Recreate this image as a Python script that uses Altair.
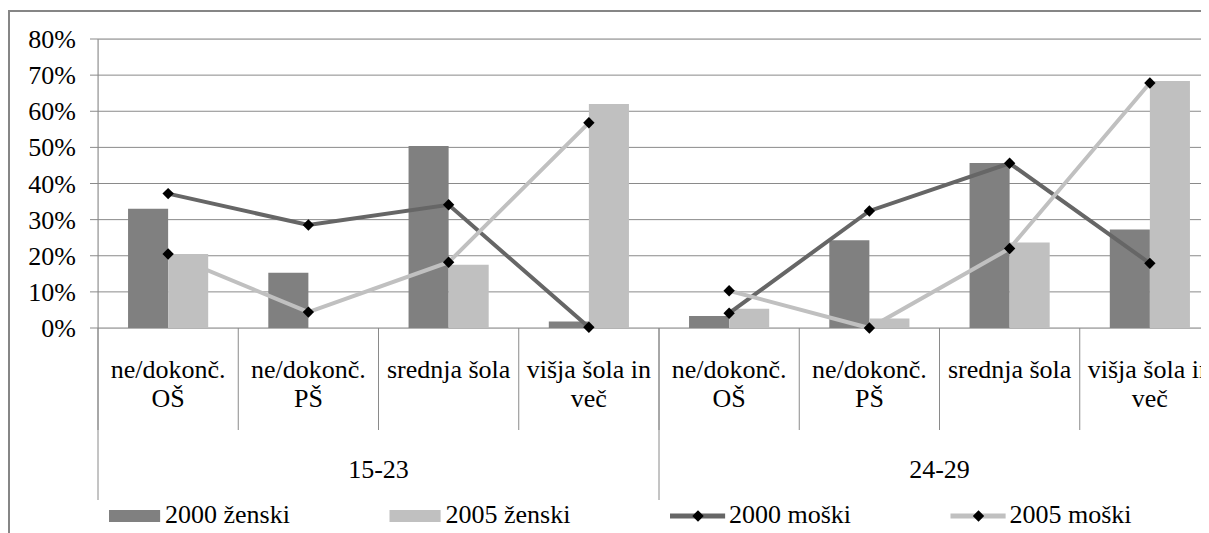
import altair as alt
import pandas as pd

GROUPS = ["15-23", "24-29"]
EDU = ["ne/dokonč.\nOŠ", "ne/dokonč.\nPŠ", "srednja šola", "višja šola in\nveč"]
SERIES = ["2000 ženski", "2005 ženski", "2000 moški", "2005 moški"]
BAR_SERIES = SERIES[:2]
LINE_SERIES = SERIES[2:]
COLORS = ["#808080", "#c0c0c0", "#666666", "#c0c0c0"]

# values in %, order: 15-23 (4 education levels), then 24-29
ZENSKI_2000 = [33.0, 15.3, 50.4, 1.8, 3.3, 24.3, 45.7, 27.3]
ZENSKI_2005 = [20.5, 0.0, 17.5, 62.0, 5.3, 2.6, 23.7, 68.4]
MOSKI_2000 = [37.2, 28.5, 34.1, 0.2, 4.1, 32.4, 45.6, 17.9]
MOSKI_2005 = [20.5, 4.4, 18.2, 56.8, 10.3, 0.0, 22.0, 67.8]
Y_TICKS = [0, 10, 20, 30, 40, 50, 60, 70, 80]

FONT = "Liberation Serif, 'Times New Roman', serif"
GRID = "#8a8a8a"
FS = 26

cats = [(g, e) for g in GROUPS for e in EDU]
CAT_KEYS = [f"{g}|{e}" for g, e in cats]

cat_df = pd.DataFrame({
    "cat": CAT_KEYS,
    "label": [e for g, e in cats],
    "group": [g for g, e in cats],
    "pos": [EDU.index(e) for g, e in cats],
})

bar_rows = []
for s, vals in zip(BAR_SERIES, [ZENSKI_2000, ZENSKI_2005]):
    for i, k in enumerate(CAT_KEYS):
        bar_rows.append({"cat": k, "series": s, "value": vals[i]})
bar_df = pd.DataFrame(bar_rows)

line_rows = []
for s, vals in zip(LINE_SERIES, [MOSKI_2000, MOSKI_2005]):
    for i, k in enumerate(CAT_KEYS):
        line_rows.append({"cat": k, "series": s, "value": vals[i],
                          "group": cats[i][0], "idx": i})
line_df = pd.DataFrame(line_rows)

tick_df = pd.DataFrame({"value": Y_TICKS})
group_df = pd.DataFrame({"group": GROUPS, "mid": [f"{g}|{EDU[1]}" for g in GROUPS]})
# legend entries are laid out along the bottom, one every two category slots
leg_df = pd.DataFrame({"series": SERIES, "kind": ["bar", "bar", "line", "line"],
                       "anchor": CAT_KEYS[0::2]})

xscale = alt.Scale(domain=CAT_KEYS, range=[0, 1122], paddingInner=0, paddingOuter=0)
X = alt.X("cat:N", scale=xscale, axis=None)
yscale = alt.Scale(domain=[0, 80], nice=False)
Y = alt.Y("value:Q", scale=yscale, axis=None)
color = alt.Color("series:N", scale=alt.Scale(domain=SERIES, range=COLORS), legend=None)

one = pd.DataFrame({"f": [0]})
frame_left = alt.Chart(one).mark_rule(stroke="#868686", strokeWidth=2).encode(
    x=alt.value(-89), y=alt.value(-28), y2=alt.value(800))
frame_top = alt.Chart(one).mark_rule(stroke="#868686", strokeWidth=2).encode(
    x=alt.value(-90), x2=alt.value(1500), y=alt.value(-28))
y_domain = alt.Chart(one).mark_rule(stroke=GRID, strokeWidth=1).encode(
    x=alt.value(0), y=alt.value(0), y2=alt.value(289))

grid = alt.Chart(tick_df).mark_rule(stroke=GRID, strokeWidth=1).encode(
    y=Y, x=alt.value(-8), x2=alt.value(1500))
ylabels = alt.Chart(tick_df).transform_calculate(
    lab="datum.value + '%'"
).mark_text(align="right", baseline="middle", fontSize=FS, font=FONT,
            color="black", dy=1).encode(y=Y, x=alt.value(-22), text="lab:N")

bars = alt.Chart(bar_df).mark_bar().encode(
    x=X,
    xOffset=alt.XOffset("series:N", scale=alt.Scale(domain=BAR_SERIES, paddingOuter=0.75, paddingInner=0)),
    y=Y,
    color=color,
)

lines = alt.Chart(line_df).mark_line(strokeWidth=4).encode(
    x=X, y=Y, color=color, detail="group:N", order="idx:Q",
)
points = alt.Chart(line_df).mark_point(
    shape="diamond", filled=True, size=130, color="black", opacity=1
).encode(x=X, y=Y)

XB = alt.X("cat:N", axis=None, bandPosition=0)
seps = alt.Chart(cat_df).mark_rule(color=GRID, strokeWidth=1).encode(
    x=XB, y=alt.value(289), y2=alt.value(391))
seps_long = alt.Chart(cat_df).transform_filter(alt.datum.pos == 0).mark_rule(
    color=GRID, strokeWidth=1).encode(x=XB, y=alt.value(289), y2=alt.value(461))

cat_text = alt.Chart(cat_df).mark_text(
    lineBreak="\n", fontSize=FS, font=FONT, align="center", baseline="alphabetic",
    lineHeight=29, color="black"
).encode(x=alt.X("cat:N", axis=None), y=alt.value(339), text="label:N")

group_text = alt.Chart(group_df).mark_text(
    fontSize=FS, font=FONT, align="center", baseline="alphabetic", color="black"
).encode(x=alt.X("mid:N", axis=None, bandPosition=1),
         y=alt.value(439), text="group:N")

LY = 477
LX = alt.X("anchor:N", axis=None, bandPosition=0)
leg_base = alt.Chart(leg_df)
# x2 of a rule on a band scale sits at the band centre (70 px in)
leg_bar = leg_base.transform_filter(alt.datum.kind == "bar").mark_rule(
    strokeWidth=12, strokeCap="butt", xOffset=11, x2Offset=-8
).encode(x=LX, x2="anchor:N", y=alt.value(LY), color=color)
leg_line = leg_base.transform_filter(alt.datum.kind == "line").mark_rule(
    strokeWidth=5, strokeCap="butt", xOffset=11, x2Offset=-4
).encode(x=LX, x2="anchor:N", y=alt.value(LY), color=color)
leg_pt = leg_base.transform_filter(alt.datum.kind == "line").mark_point(
    shape="diamond", filled=True, size=130, color="black", opacity=1, xOffset=39
).encode(x=LX, y=alt.value(LY))
leg_text_bar = leg_base.transform_filter(alt.datum.kind == "bar").mark_text(
    align="left", baseline="alphabetic", fontSize=FS, font=FONT, dx=67, color="black"
).encode(x=LX, y=alt.value(LY + 7), text="series:N")
leg_text_line = leg_base.transform_filter(alt.datum.kind == "line").mark_text(
    align="left", baseline="alphabetic", fontSize=FS, font=FONT, dx=70, color="black"
).encode(x=LX, y=alt.value(LY + 7), text="series:N")

chart = alt.layer(
    frame_left, frame_top, grid, y_domain, ylabels, bars, lines, points, seps,
    seps_long, cat_text, group_text, leg_bar, leg_line, leg_pt, leg_text_bar,
    leg_text_line
).properties(
    width=1103, height=289, autosize=alt.AutoSizeParams(type="none"),
    padding={"left": 90, "top": 31, "right": 0, "bottom": 205},
).configure_view(stroke=None).configure(background="white", font=FONT)

chart.save("out.html", embed_options={"renderer": "svg", "actions": False})
